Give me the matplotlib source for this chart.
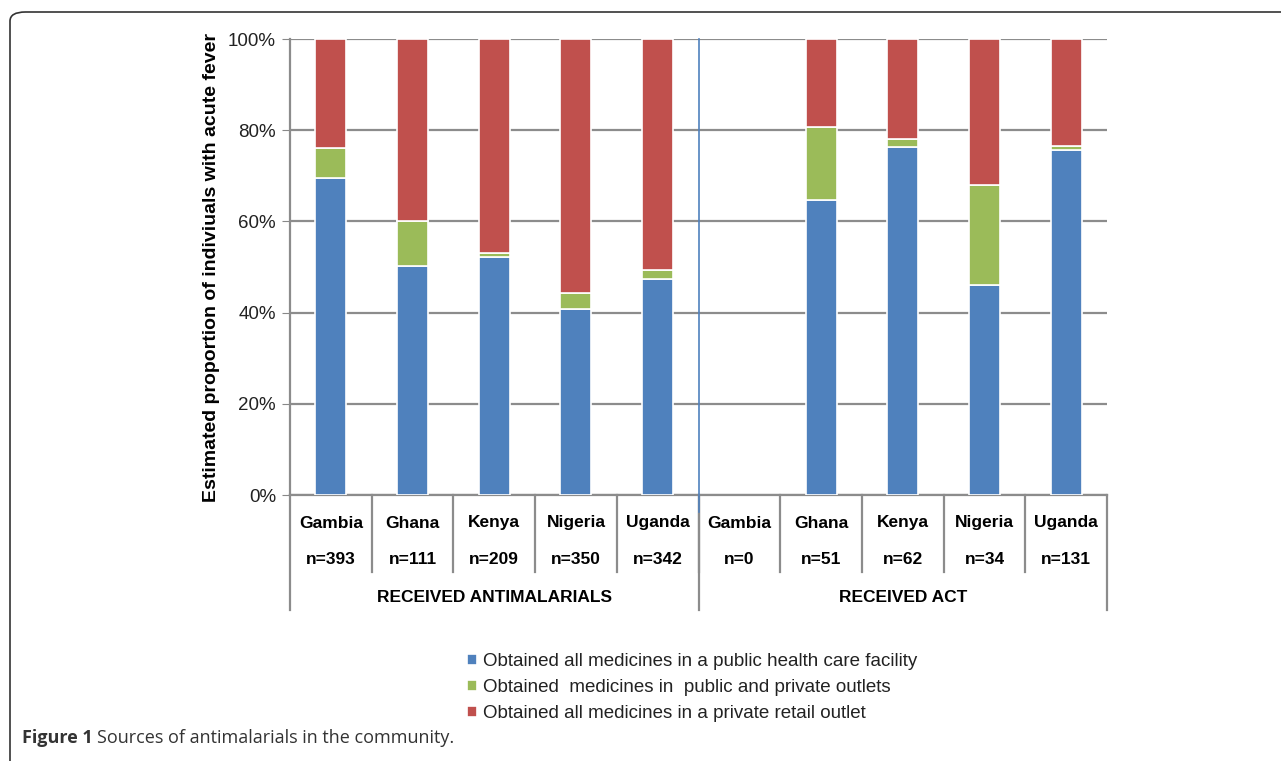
import matplotlib.pyplot as plt
from matplotlib.patches import FancyBboxPatch
from matplotlib.lines import Line2D
from matplotlib.ticker import PercentFormatter

plt.rcParams['font.family'] = ['Liberation Sans', 'DejaVu Sans']

# data (percentages)
countries = ["Gambia", "Ghana", "Kenya", "Nigeria", "Uganda",
             "Gambia", "Ghana", "Kenya", "Nigeria", "Uganda"]
n_labels = ["n=393", "n=111", "n=209", "n=350", "n=342",
            "n=0", "n=51", "n=62", "n=34", "n=131"]
groups = ["RECEIVED ANTIMALARIALS", "RECEIVED ACT"]
group_size = [5, 5]

public = [69.5, 50.3, 52.2, 40.8, 47.3, 0, 64.6, 76.3, 46.0, 75.6]
both = [6.5, 9.7, 0.9, 3.4, 2.0, 0, 16.1, 1.7, 21.9, 0.9]
private = [24.0, 40.0, 46.9, 55.8, 50.7, 0, 19.3, 22.0, 32.1, 23.5]

series_names = ["Obtained all medicines in a public health care facility",
                "Obtained  medicines in  public and private outlets",
                "Obtained all medicines in a private retail outlet"]
colors = ["#4f81bd", "#9bbb59", "#c0504d"]

W, H = 1281, 761
fig = plt.figure(figsize=(W / 100, H / 100), dpi=100)

# rounded frame of the figure panel
frame = FancyBboxPatch((10 / W, -20 / H), 1.2, (H - 12 + 20) / H,
                       boxstyle="round,pad=0,rounding_size=0.012",
                       transform=fig.transFigure, fill=False,
                       edgecolor="#333333", linewidth=1.2)
fig.patches.append(frame)

ax = fig.add_axes([290 / W, 1 - 495 / H, (1107 - 290) / W, (495 - 39) / H])

x = [i + 0.5 for i in range(len(countries))]
bottoms2 = [a + b for a, b in zip(public, both)]
for vals, bot, col, name in [(public, None, colors[0], series_names[0]),
                             (both, public, colors[1], series_names[1]),
                             (private, bottoms2, colors[2], series_names[2])]:
    bars = ax.bar(x, vals, width=0.38, bottom=bot, color=col, edgecolor="white",
                  linewidth=1.2, label=name, zorder=3)
    for b, v in zip(bars, vals):
        if v == 0:
            b.set_visible(False)

ax.set_xlim(0, len(countries))
ax.set_ylim(0, 100)
ax.set_yticks([0, 20, 40, 60, 80, 100])
ax.yaxis.set_major_formatter(PercentFormatter(decimals=0))
ax.tick_params(axis="y", labelsize=13.5, length=6, color="#888888", pad=4,
               labelcolor="#222222")
ax.set_xticks([])
ax.grid(axis="y", color="#8c8c8c", linewidth=1.6, zorder=0)
for s in ["top", "right"]:
    ax.spines[s].set_visible(False)
ax.spines["left"].set_color("#8c8c8c")
ax.spines["left"].set_linewidth(1.6)
ax.spines["bottom"].set_color("#8c8c8c")
ax.spines["bottom"].set_linewidth(1.6)
ax.set_ylabel("Estimated proportion of indiviuals with acute fever",
              fontsize=14, fontweight="bold", labelpad=6)

# blue separator between the two groups
sep = group_size[0]
trans = ax.get_xaxis_transform()
px = 1 / 456  # one pixel in axes fraction (vertical)
ax.add_line(Line2D([sep, sep], [-17 * px, 1], transform=trans,
                   color="#4f81bd", linewidth=1.2, clip_on=False, zorder=4))

# multi-level category axis below the plot
for i, (c, n) in enumerate(zip(countries, n_labels)):
    ax.text(i + 0.5, -28 * px, c, transform=trans, ha="center", va="center",
            fontsize=12.5, fontweight="bold")
    ax.text(i + 0.5, -65 * px, n, transform=trans, ha="center", va="center",
            fontsize=12.5, fontweight="bold")
    if i > 0:
        ax.add_line(Line2D([i, i], [-77 * px, 0], transform=trans,
                           color="#8c8c8c", linewidth=1.6, clip_on=False))
start = 0
for g, size in zip(groups, group_size):
    ax.text(start + size / 2, -102 * px, g, transform=trans, ha="center",
            va="center", fontsize=12.5, fontweight="bold")
    start += size
edges = [0]
for size in group_size:
    edges.append(edges[-1] + size)
for e in edges:
    ax.add_line(Line2D([e, e], [-115 * px, 0], transform=trans,
                       color="#8c8c8c", linewidth=1.6, clip_on=False))

handles, labels = ax.get_legend_handles_labels()
fig.legend(handles, labels, loc="upper left",
           bbox_to_anchor=(450 / W, 1 - 636 / H), frameon=False,
           fontsize=13.5, handlelength=0.55, handleheight=0.55,
           handletextpad=0.3, labelspacing=0.48, labelcolor="#222222")

fig.text(22 / W, 1 - 738 / H, "Figure 1", fontsize=13, fontweight="bold",
         family=["Open Sans", "DejaVu Sans"], color="#333333", va="center")
fig.text(97 / W, 1 - 738 / H, "Sources of antimalarials in the community.",
         fontsize=13, family=["Open Sans", "DejaVu Sans"], color="#333333",
         va="center")

fig.savefig("out.png", dpi=100)
